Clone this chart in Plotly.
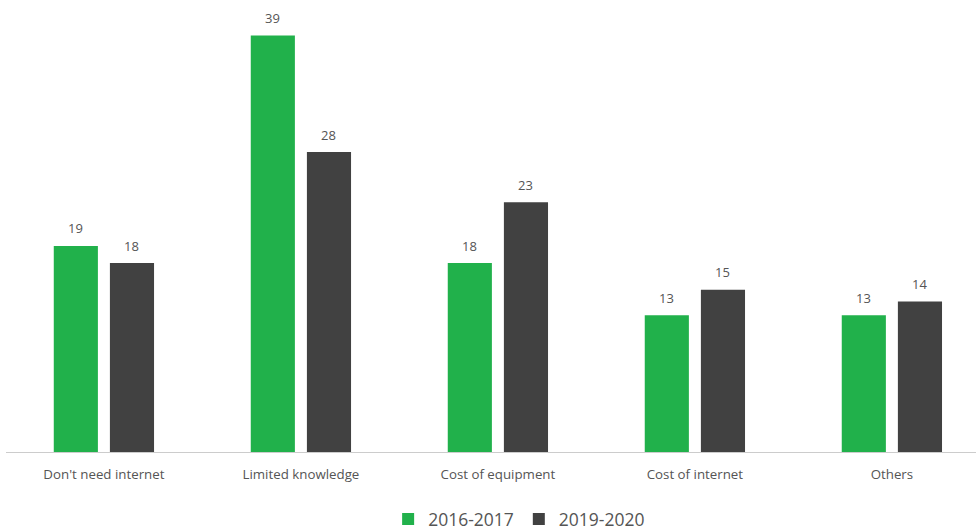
import plotly.graph_objects as go

categories = ["Don't need internet", "Limited knowledge", "Cost of equipment", "Cost of internet", "Others"]
series_2016 = [19.3, 39.0, 17.7, 12.8, 12.8]
series_2019 = [17.7, 28.1, 23.4, 15.2, 14.1]
series_names = ["2016-2017", "2019-2020"]
colors = ["#21B14B", "#414141"]

fig = go.Figure()
all_series = [series_2016, series_2019]
for name, vals, col in zip(series_names, all_series, colors):
    fig.add_trace(go.Bar(
        x=list(range(len(categories))), y=vals, name=name,
        marker=dict(color=col, line=dict(width=0)),
    ))

# value labels above each bar, placed via the axis scale with pixel shifts
for k, vals in enumerate(all_series):
    shift = -28 if k == 0 else 28
    for i, v in enumerate(vals):
        fig.add_annotation(x=i, y=v, xref="x", yref="y", text=f"{v:.0f}", showarrow=False,
                           xshift=shift, yshift=17.5, yanchor="middle",
                           font=dict(size=13, color="#555555"))

fig.update_layout(
    width=976, height=532,
    margin=dict(l=6, r=0, t=10, b=80),
    paper_bgcolor="white", plot_bgcolor="white",
    font=dict(family="Open Sans", color="#555555"),
    barmode="group", bargap=0.43, bargroupgap=0.214,
    showlegend=True,
    legend=dict(orientation="h", x=0.529, xanchor="center",
                yref="container", y=(532 - 519) / 532, yanchor="middle",
                font=dict(size=17.5, color="#555555"), itemwidth=30, traceorder="normal"),
    xaxis=dict(
        tickmode="array", tickvals=list(range(len(categories))), ticktext=categories,
        range=[-0.497, 4.427], showgrid=False, zeroline=False,
        showline=True, linecolor="#cccccc", linewidth=1,
        tickfont=dict(size=13.3, color="#555555"), ticks="", ticklabelstandoff=10,
    ),
    yaxis=dict(range=[0, 41.4], visible=False, showgrid=False, zeroline=False),
)

fig.write_html("out.html")
